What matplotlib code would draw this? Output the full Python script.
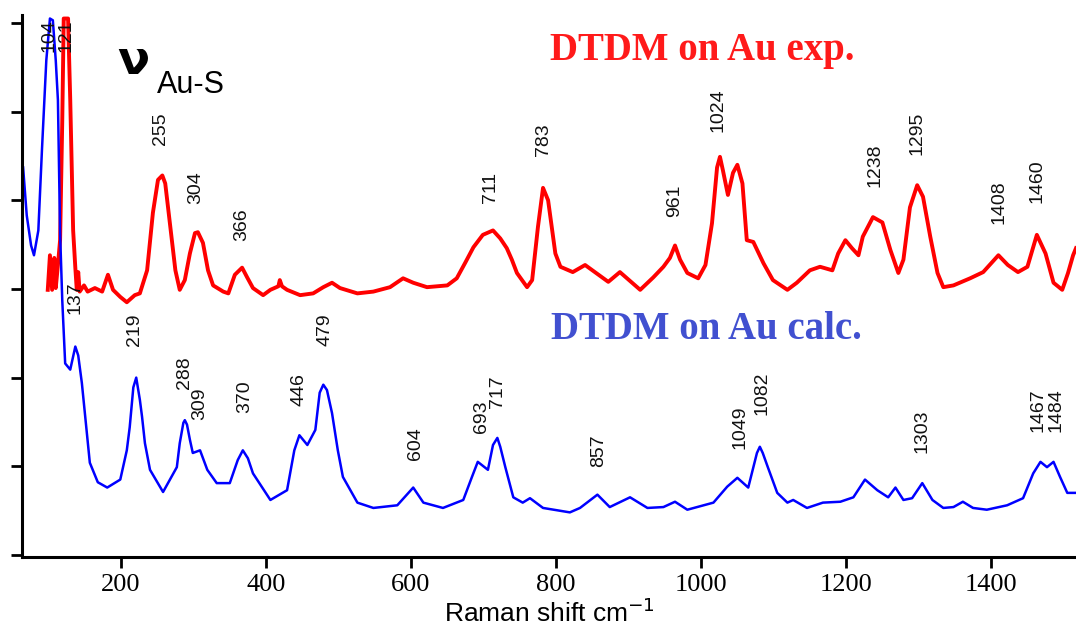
import matplotlib
matplotlib.use("Agg")
import matplotlib.pyplot as plt

exp_x = [99, 102, 105, 108, 110, 113, 116, 119, 121, 127, 130, 134, 137, 139, 141, 143, 149, 154,
         164, 174, 182, 189, 199, 208, 219, 226, 236, 244, 251, 257, 261, 268, 275, 281, 288, 295,
         302, 306, 313, 320, 327, 341, 348, 357, 367, 374, 382, 396, 406, 417, 419, 422, 429, 447,
         465, 479, 491, 502, 526, 548, 571, 589, 603, 622, 650, 663, 675, 686, 699, 713, 723, 732,
         739, 746, 760, 767, 775, 782, 789, 799, 806, 823, 840, 872, 888, 916, 934, 948, 957, 964,
         971, 981, 996, 1006, 1015, 1022, 1026, 1030, 1037, 1044, 1050, 1057, 1063, 1072, 1086,
         1099, 1119, 1132, 1150, 1164, 1181, 1189, 1199, 1208, 1217, 1223, 1237, 1250, 1261, 1272,
         1279, 1288, 1298, 1306, 1316, 1326, 1334, 1348, 1371, 1389, 1410, 1423, 1437, 1450, 1463,
         1475, 1486, 1498, 1506, 1513, 1517]
exp_y = [2.99, 3.38, 2.99, 3.35, 3.01, 3.27, 3.55, 4.90, 6.05, 6.05, 5.13, 3.66, 3.24, 2.99, 3.19,
         2.97, 3.04, 2.97, 3.01, 2.97, 3.16, 2.99, 2.91, 2.85, 2.93, 2.95, 3.21, 3.86, 4.23, 4.28,
         4.19, 3.70, 3.21, 2.99, 3.10, 3.40, 3.63, 3.64, 3.52, 3.21, 3.04, 2.97, 2.95, 3.16, 3.24,
         3.13, 3.01, 2.93, 2.99, 3.03, 3.10, 3.03, 2.99, 2.93, 2.95, 3.02, 3.07, 3.01, 2.95, 2.97,
         3.02, 3.12, 3.07, 3.02, 3.04, 3.12, 3.30, 3.47, 3.61, 3.66, 3.57, 3.46, 3.33, 3.18, 3.02,
         3.10, 3.70, 4.14, 4.00, 3.40, 3.25, 3.19, 3.27, 3.08, 3.19, 2.99, 3.13, 3.25, 3.35, 3.49,
         3.33, 3.18, 3.12, 3.27, 3.74, 4.37, 4.49, 4.34, 4.06, 4.31, 4.40, 4.19, 3.55, 3.53, 3.29,
         3.10, 2.99, 3.07, 3.21, 3.25, 3.21, 3.40, 3.55, 3.46, 3.38, 3.59, 3.81, 3.75, 3.44, 3.18,
         3.33, 3.92, 4.17, 4.04, 3.59, 3.18, 3.02, 3.04, 3.12, 3.19, 3.38, 3.27, 3.19, 3.25, 3.61,
         3.40, 3.07, 2.99, 3.18, 3.38, 3.46]

# calculated spectrum (blue)
calc_x = [65, 70, 76, 80, 86, 91, 97, 102, 106, 110, 113, 116, 119, 123, 130, 137, 141, 146, 157,
          168, 181, 199, 208, 212, 217, 221, 226, 229, 233, 240, 258, 277, 281, 286, 288, 291, 295,
          299, 309, 319, 332, 350, 361, 368, 375, 382, 406, 429, 439, 446, 457, 468, 474, 479, 484,
          491, 499, 506, 526, 548, 581, 603, 617, 644, 672, 684, 692, 706, 713, 719, 723, 730, 741,
          754, 764, 782, 819, 833, 857, 874, 902, 926, 948, 964, 981, 1017, 1036, 1050, 1065, 1077,
          1081, 1085, 1092, 1105, 1119, 1127, 1146, 1168, 1192, 1210, 1226, 1243, 1258, 1268, 1279,
          1291, 1305, 1319, 1334, 1348, 1361, 1375, 1394, 1422, 1444, 1458, 1468, 1477, 1486, 1495,
          1505, 1517]
calc_y = [4.37, 3.83, 3.49, 3.38, 3.66, 4.57, 5.58, 6.05, 6.03, 5.58, 5.13, 3.63, 2.87, 2.16, 2.09,
          2.35, 2.25, 1.94, 1.04, 0.82, 0.76, 0.85, 1.18, 1.44, 1.89, 2.00, 1.75, 1.56, 1.26, 0.96,
          0.71, 0.99, 1.26, 1.49, 1.52, 1.47, 1.30, 1.15, 1.18, 0.96, 0.81, 0.81, 1.07, 1.18, 1.09,
          0.92, 0.62, 0.73, 1.18, 1.35, 1.24, 1.41, 1.83, 1.92, 1.86, 1.60, 1.18, 0.88, 0.59, 0.53,
          0.56, 0.76, 0.59, 0.53, 0.62, 0.88, 1.05, 0.96, 1.24, 1.32, 1.22, 0.99, 0.65, 0.59, 0.64,
          0.53, 0.48, 0.53, 0.68, 0.54, 0.65, 0.53, 0.54, 0.60, 0.51, 0.59, 0.77, 0.87, 0.76, 1.15,
          1.22, 1.15, 0.99, 0.70, 0.59, 0.62, 0.53, 0.59, 0.60, 0.65, 0.85, 0.73, 0.65, 0.76, 0.62,
          0.64, 0.81, 0.62, 0.53, 0.54, 0.60, 0.53, 0.51, 0.56, 0.64, 0.92, 1.05, 0.99, 1.05, 0.88,
          0.70, 0.70]

# peak annotations: (text, x, y)
exp_labels = [("104", 101, 5.86), ("121", 124, 5.86), ("255", 254, 4.81), ("304", 303, 4.14),
              ("366", 366, 3.72), ("711", 710, 4.14), ("783", 783, 4.68), ("961", 964, 4.00),
              ("1024", 1023, 5.02), ("1238", 1240, 4.40), ("1295", 1298, 4.76),
              ("1408", 1411, 3.98), ("1460", 1463, 4.21)]
calc_labels = [("137", 137, 2.90), ("219", 219, 2.54), ("288", 288, 2.05), ("309", 309, 1.70),
               ("370", 371, 1.78), ("446", 446, 1.86), ("479", 481, 2.54), ("604", 606, 1.26),
               ("693", 697, 1.56), ("717", 719, 1.84), ("857", 858, 1.18), ("1049", 1054, 1.44),
               ("1082", 1084, 1.82), ("1303", 1305, 1.39), ("1467", 1465, 1.63),
               ("1484", 1490, 1.63)]

xticks = [200, 400, 600, 800, 1000, 1200, 1400]
yticks = [0, 1, 2, 3, 4, 5, 6]

fig = plt.figure(figsize=(10.76, 6.29), dpi=100)
ax = fig.add_axes([0.0204, 0.1145, 0.9796, 0.8617])

ax.plot(exp_x, exp_y, color="#ff0000", lw=2.8, clip_on=False, solid_joinstyle="round")
ax.plot(calc_x, calc_y, color="#0000ff", lw=1.8, clip_on=False, solid_joinstyle="round")

for t, x, y in exp_labels + calc_labels:
    ax.text(x, y, t, rotation=90, ha="center", va="center", fontsize=14,
            family="Liberation Sans", color="#111111")

ax.text(1001, 5.69, "DTDM on Au exp.", color="#ff1a1a", fontsize=28, fontweight="bold",
        family="Liberation Serif", ha="center", va="center")
ax.text(1008, 2.54, "DTDM on Au calc.", color="#4150d0", fontsize=28, fontweight="bold",
        family="Liberation Serif", ha="center", va="center")
ax.text(217, 5.57, "ν", fontsize=34, fontweight="bold", family="DejaVu Sans",
        ha="center", va="center")
ax.text(297, 5.30, "Au-S", fontsize=22, family="Liberation Sans", ha="center", va="center")

ax.set_xlim(63.4, 1517)
ax.set_ylim(-0.023, 6.09)
ax.set_xticks(xticks)
ax.set_yticks(yticks)
ax.set_yticklabels([])
for lab in ax.get_xticklabels():
    lab.set_family("Liberation Serif")
ax.tick_params(axis="x", labelsize=19, length=8, width=2, direction="out", pad=4)
ax.tick_params(axis="y", length=8, width=2, direction="out")

ax.spines["top"].set_visible(False)
ax.spines["right"].set_visible(False)
ax.spines["left"].set_linewidth(2.2)
ax.spines["bottom"].set_linewidth(2.2)

ax.set_xlabel("Raman shift cm$^{-1}$", fontsize=19, family="Liberation Sans", labelpad=2)

fig.savefig("out.png", dpi=100)
